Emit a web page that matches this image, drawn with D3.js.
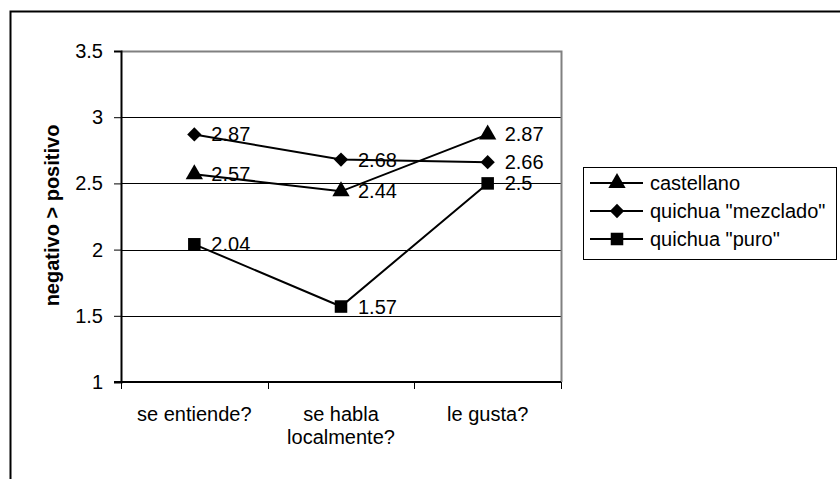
<!DOCTYPE html>
<html>
<head>
<meta charset="utf-8">
<script src="https://cdn.jsdelivr.net/npm/d3@7"></script>
<style>
  html, body { margin: 0; padding: 0; background: #fff; }
  svg { display: block; font-family: "Liberation Sans", Arial, sans-serif; }
</style>
</head>
<body>
<svg id="chart" width="840" height="479"></svg>
<script>
// Survey categories (x axis, two-line labels)
const categories = ["se entiende?", "se habla localmente?", "le gusta?"];
const categoryLines = [["se entiende?"], ["se habla", "localmente?"], ["le gusta?"]];

// Mean scores per series
const seriesNames = ["castellano", "quichua \"mezclado\"", "quichua \"puro\""];
const castellano = [2.57, 2.44, 2.87];
const quichuaMezclado = [2.87, 2.68, 2.66];
const quichuaPuro = [2.04, 1.57, 2.5];

const yTicks = [1, 1.5, 2, 2.5, 3, 3.5];
const yTitle = "negativo > positivo";

const series = [
  { name: seriesNames[0], values: castellano, symbol: d3.symbolTriangle, size: 130 },
  { name: seriesNames[1], values: quichuaMezclado, symbol: d3.symbolDiamond2, size: 130 },
  { name: seriesNames[2], values: quichuaPuro, symbol: d3.symbolSquare2, size: 200 }
];

const svg = d3.select("#chart");
const plot = { left: 121, top: 51, right: 561, bottom: 382 };

// Outer chart frame
svg.append("rect")
  .attr("x", 10.5).attr("y", 11.5)
  .attr("width", 860).attr("height", 500)
  .attr("fill", "none").attr("stroke", "#000").attr("stroke-width", 2);

const x = d3.scaleBand().domain(categories).range([plot.left, plot.right]).padding(0);
const y = d3.scaleLinear().domain([1, 3.5]).range([plot.bottom, plot.top]);
const cx = c => x(c) + x.bandwidth() / 2;

// Horizontal gridlines
svg.append("g").selectAll("line")
  .data(yTicks.filter(t => t > 1 && t < 3.5))
  .join("line")
  .attr("x1", plot.left).attr("x2", plot.right)
  .attr("y1", d => Math.round(y(d)) + 0.5).attr("y2", d => Math.round(y(d)) + 0.5)
  .attr("stroke", "#000").attr("stroke-width", 1);

// Plot area frame (top and right in grey)
svg.append("path")
  .attr("d", `M${plot.left},${plot.top + 0.5}H${plot.right + 0.5}V${plot.bottom}`)
  .attr("fill", "none").attr("stroke", "#808080").attr("stroke-width", 2);

// Y axis
const yAxis = d3.axisLeft(y).tickValues(yTicks).tickSize(7).tickPadding(11)
  .tickFormat(d3.format("~g"));
const gy = svg.append("g").attr("transform", `translate(${plot.left},0)`).call(yAxis);
gy.select(".domain").attr("stroke", "#000").attr("stroke-width", 2);
gy.selectAll(".tick line").attr("stroke", "#000").attr("stroke-width", 1);
gy.selectAll(".tick text").attr("font-size", 20).attr("fill", "#000")
  .attr("font-family", "Liberation Sans, Arial, sans-serif");

// X axis with ticks at category boundaries
const gx = svg.append("g").attr("transform", `translate(0,${plot.bottom})`);
gx.append("line").attr("x1", plot.left - 7).attr("x2", plot.right)
  .attr("y1", 0).attr("y2", 0).attr("stroke", "#000").attr("stroke-width", 2);
const bounds = categories.map(c => x(c)).concat([x(categories[categories.length - 1]) + x.bandwidth()]);
gx.selectAll("line.tk").data(bounds).join("line").attr("class", "tk")
  .attr("x1", d => Math.round(d) + 0.5).attr("x2", d => Math.round(d) + 0.5)
  .attr("y1", 0).attr("y2", 7).attr("stroke", "#000").attr("stroke-width", 1);
categories.forEach((c, i) => {
  const t = gx.append("text").attr("x", cx(c)).attr("y", 39)
    .attr("text-anchor", "middle").attr("font-size", 20).attr("fill", "#000");
  categoryLines[i].forEach((ln, j) => {
    t.append("tspan").attr("x", cx(c)).attr("dy", j === 0 ? 0 : 23).text(ln);
  });
});

// Y title, rotated, baseline on the right
svg.append("text")
  .attr("transform", `translate(59,${(plot.top + plot.bottom) / 2 - 1}) rotate(-90)`)
  .attr("text-anchor", "middle")
  .attr("font-size", 20).attr("font-weight", "bold").attr("fill", "#000")
  .text(yTitle);

// Series lines, markers and value labels
const line = d3.line().x((d, i) => cx(categories[i])).y(d => y(d));
series.forEach(s => {
  svg.append("path").datum(s.values).attr("d", line)
    .attr("fill", "none").attr("stroke", "#000").attr("stroke-width", 2);
});
series.forEach(s => {
  svg.append("g").selectAll("path").data(s.values).join("path")
    .attr("transform", (d, i) => `translate(${cx(categories[i])},${y(d)})`)
    .attr("d", d3.symbol(s.symbol, s.size)).attr("fill", "#000");
  svg.append("g").selectAll("text").data(s.values).join("text")
    .attr("x", (d, i) => cx(categories[i]) + 17).attr("y", d => y(d))
    .attr("dominant-baseline", "central")
    .attr("font-size", 20).attr("fill", "#000")
    .text(d => d3.format("~g")(d));
});

// Legend
const leg = svg.append("g");
leg.append("rect").attr("x", 583.5).attr("y", 167.5).attr("width", 253).attr("height", 92)
  .attr("fill", "#fff").attr("stroke", "#000").attr("stroke-width", 1);
series.forEach((s, i) => {
  const ly = 183 + i * 28;
  leg.append("line").attr("x1", 590).attr("x2", 643).attr("y1", ly).attr("y2", ly)
    .attr("stroke", "#000").attr("stroke-width", 2);
  leg.append("path").attr("transform", `translate(617,${ly})`)
    .attr("d", d3.symbol(s.symbol, s.size)).attr("fill", "#000");
  leg.append("text").attr("x", 650).attr("y", ly).attr("dominant-baseline", "central")
    .attr("font-size", 20).attr("fill", "#000").text(s.name);
});
</script>
</body>
</html>
